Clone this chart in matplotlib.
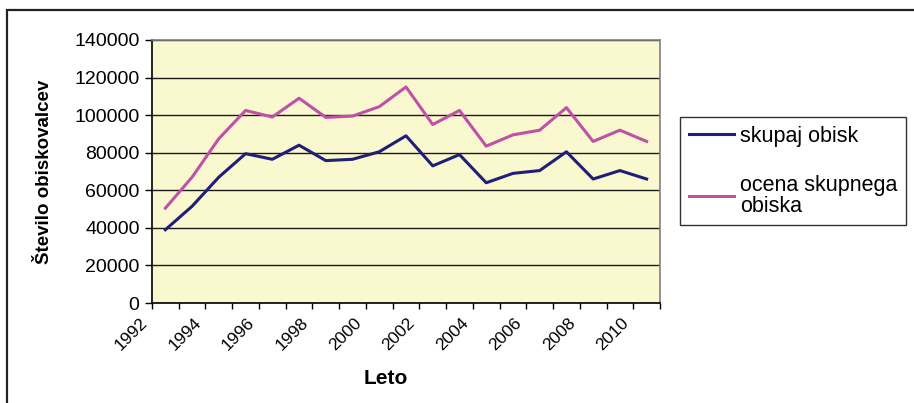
import numpy as np
import matplotlib.pyplot as plt
from matplotlib.patches import Rectangle
from matplotlib.transforms import ScaledTranslation

# --- data ---
years = list(range(1992, 2011))
skupaj_obisk = [39000, 51500, 67000, 79500, 76500, 84000, 75800, 76500, 80500,
                89000, 73000, 79000, 64000, 69000, 70500, 80500, 66000, 70500, 66000]
ocena_obiska = [50500, 67000, 87500, 102500, 99000, 109000, 98800, 99500, 104500,
                115000, 95000, 102500, 83500, 89500, 92000, 104000, 86000, 92000, 86000]

plt.rcParams['font.family'] = ['Liberation Sans', 'DejaVu Sans']

W, H = 914, 403
fig = plt.figure(figsize=(W / 100, H / 100), dpi=100)
fig.patch.set_facecolor('white')

# outer chart border (cut at right and bottom like the original)
fig.patches.append(Rectangle((7 / W, -0.05), 1.2, 1 - 10 / H + 0.05,
                             transform=fig.transFigure, fill=False,
                             edgecolor='#222222', linewidth=1.6))

ax = fig.add_axes([152 / W, 1 - 303 / H, 508 / W, 263 / H])
ax.set_facecolor('#FAF8CF')

x = np.arange(len(years))
ax.plot(x, skupaj_obisk, color='#1F1F78', linewidth=2.2, label='skupaj obisk')
ax.plot(x, ocena_obiska, color='#C050A8', linewidth=2.2, label='ocena skupnega\nobiska')

ax.set_xlim(-0.5, len(years) - 0.5)
ax.set_ylim(0, 140000)
ax.set_yticks(np.arange(0, 140001, 20000))
ax.set_yticklabels([str(v) for v in range(0, 140001, 20000)], fontsize=14)
ax.yaxis.grid(True, color='#1a1a1a', linewidth=1.0)
ax.set_axisbelow(True)

# category boundaries carry the tick marks, labels sit on every other year
ax.set_xticks(np.arange(-0.5, len(years)), minor=True)
ax.set_xticks(x[::2])
ax.set_xticklabels([str(y) for y in years[::2]], rotation=45, ha='right',
                   va='top', fontsize=12.5)
ax.tick_params(axis='x', which='major', length=0, pad=9)
ax.tick_params(axis='x', which='minor', length=4, width=1, color='black', direction='out')
ax.tick_params(axis='y', length=5, width=1, color='black', direction='out', pad=4)
for lab in ax.get_xticklabels():
    lab.set_transform(lab.get_transform() + ScaledTranslation(-0.15, 0, fig.dpi_scale_trans))

for side in ('left', 'bottom'):
    ax.spines[side].set_color('black')
    ax.spines[side].set_linewidth(1.2)
for side in ('top', 'right'):
    ax.spines[side].set_color('#808080')
    ax.spines[side].set_linewidth(1.2)

fig.text(45 / W, 1 - 172 / H, 'Število obiskovalcev', rotation=90, ha='center',
         va='center', fontsize=13.5, fontweight='bold')
fig.text(386 / W, 1 - 378 / H, 'Leto', ha='center', va='center',
         fontsize=15, fontweight='bold')

leg = fig.legend(loc='upper left', bbox_to_anchor=(680 / W, 1 - 117 / H),
                 bbox_transform=fig.transFigure, borderaxespad=0, fontsize=15.5,
                 frameon=True, fancybox=False, edgecolor='black',
                 handlelength=2.1, handletextpad=0.3, labelspacing=1.3,
                 borderpad=0.4)
leg.get_frame().set_linewidth(1.0)
for t in leg.get_texts():
    t.set_linespacing(1.0)

fig.savefig('out.png', dpi=100)
